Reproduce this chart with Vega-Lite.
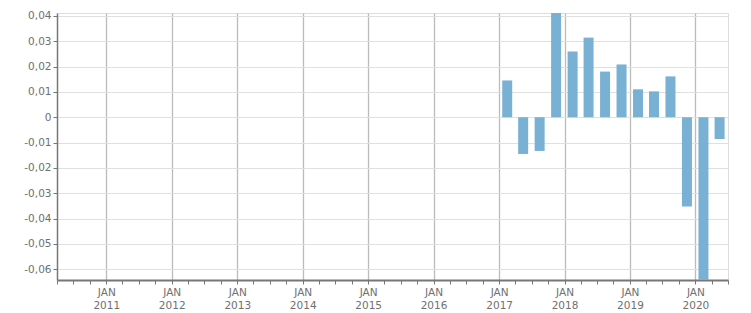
{
  "$schema": "https://vega.github.io/schema/vega-lite/v6.json",
  "autosize": "none",
  "width": 671,
  "height": 267,
  "padding": {"left": 57, "top": 13, "right": 23, "bottom": 33},
  "background": "white",
  "config": {
    "view": {"stroke": "#dddddd", "strokeWidth": 1},
    "font": "DejaVu Sans"
  },
  "data": {
    "values": [
      {"date": "2017-02-15", "value": 0.0145},
      {"date": "2017-05-15", "value": -0.0145},
      {"date": "2017-08-15", "value": -0.0133},
      {"date": "2017-11-15", "value": 0.0415},
      {"date": "2018-02-15", "value": 0.0259},
      {"date": "2018-05-15", "value": 0.0314},
      {"date": "2018-08-15", "value": 0.0180},
      {"date": "2018-11-15", "value": 0.0208},
      {"date": "2019-02-15", "value": 0.0110},
      {"date": "2019-05-15", "value": 0.0102},
      {"date": "2019-08-15", "value": 0.0161},
      {"date": "2019-11-15", "value": -0.0352},
      {"date": "2020-02-15", "value": -0.0660},
      {"date": "2020-05-15", "value": -0.0086}
    ]
  },
  "mark": {"type": "bar", "size": 10, "color": "#79b1d4", "clip": true},
  "encoding": {
    "x": {
      "field": "date",
      "type": "temporal",
      "title": null,
      "scale": {
        "type": "utc",
        "nice": false,
        "padding": 0,
        "domain": [
          {"year": 2010, "month": 4, "date": 1, "utc": true},
          {"year": 2020, "month": 7, "date": 1, "utc": true}
        ]
      },
      "axis": {
        "tickCount": {"interval": "month", "step": 3},
        "labelExpr": "utcmonth(datum.value) === 0 ? ['JAN', utcFormat(datum.value, '%Y')] : ''",
        "labelFontSize": 10.5,
        "labelColor": "#707070",
        "labelLineHeight": 13,
        "labelPadding": 3,
        "labelOverlap": false,
        "labelFlush": false,
        "domainColor": "#777777",
        "domainWidth": 2,
        "tickColor": "#777777",
        "tickSize": 4,
        "grid": true,
        "gridColor": {"condition": {"test": "utcmonth(datum.value) === 0", "value": "#bbbbbb"}, "value": "transparent"},
        "gridWidth": 1.3
      }
    },
    "y": {
      "field": "value",
      "type": "quantitative",
      "title": null,
      "scale": {"domain": [-0.0642, 0.0411], "nice": false, "zero": false, "padding": 0},
      "axis": {
        "values": [-0.06, -0.05, -0.04, -0.03, -0.02, -0.01, 0, 0.01, 0.02, 0.03, 0.04],
        "labelExpr": "(datum.value < 0 ? '-' : '') + replace(format(abs(datum.value), '.2~f'), '.', ',')",
        "labelFontSize": 10.5,
        "labelColor": "#707070",
        "labelPadding": 2,
        "domainColor": "#777777",
        "domainWidth": 1.5,
        "tickColor": "#777777",
        "tickSize": 4,
        "grid": true,
        "gridColor": "#e0e0e0",
        "gridWidth": 1
      }
    }
  }
}
